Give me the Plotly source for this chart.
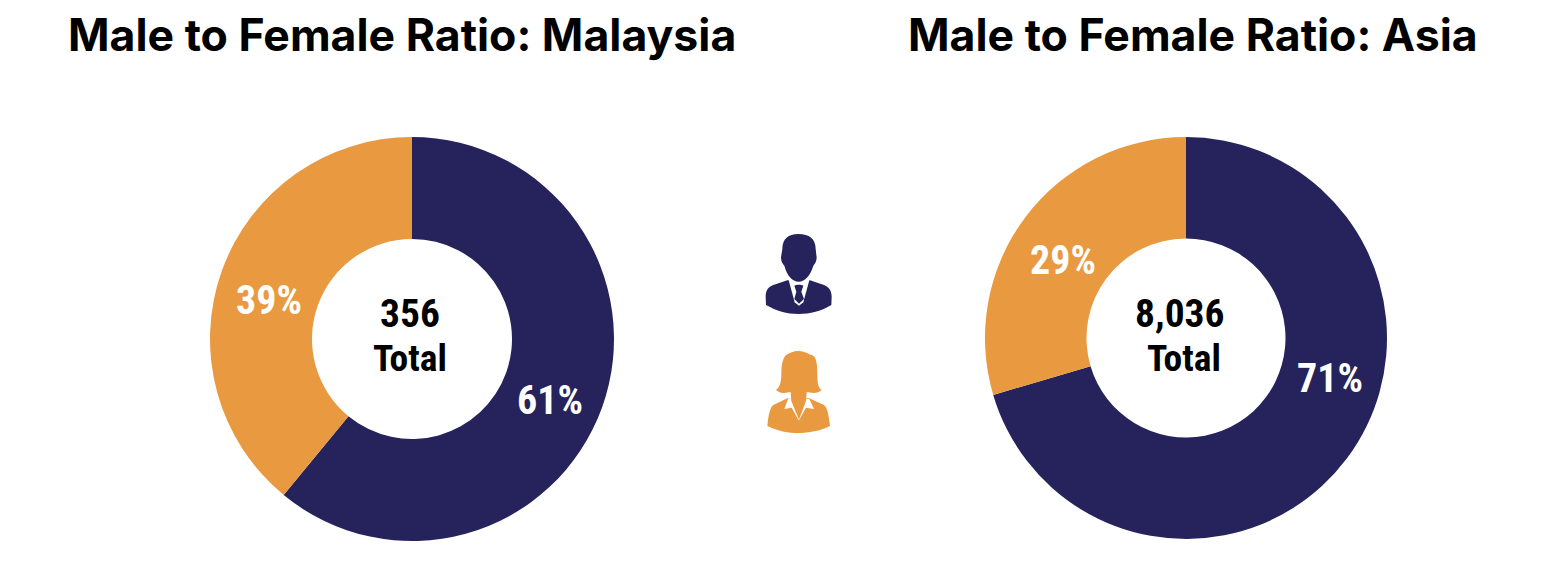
import re
import plotly.graph_objects as go

W, H = 1544, 572
OFF = 8  # the page places the figure 8 px in from the window's corner
NAVY, ORANGE = "#26235c", "#e9993f"

segments = ["Male", "Female"]
malaysia_counts = [217, 139]
asia_counts = [5660, 2376]
malaysia_pct = ["61%", "39%"]
asia_pct = ["71%", "29%"]
titles = ["Male to Female Ratio: Malaysia", "Male to Female Ratio: Asia"]
totals = ["356", "8,036"]


def px(x):
    return (x - OFF) / W


def py(y):
    return 1 - (y - OFF) / H


def make_pie(vals, x0, x1, y0, y1):
    return go.Pie(
        labels=segments, values=vals, hole=0.495, sort=False, direction="clockwise",
        rotation=0, textinfo="none", hoverinfo="label+percent",
        marker=dict(colors=[NAVY, ORANGE], line=dict(width=0)),
        domain=dict(x=[px(x0), px(x1)], y=[py(y1), py(y0)]), showlegend=False,
    )


fig = go.Figure([
    make_pie(malaysia_counts, 210, 614, 137, 541),
    make_pie(asia_counts, 985, 1387, 137, 539),
])


def txt(s, x, y, size, color, family):
    return dict(text=s, x=px(x), y=py(y), xref="paper", yref="paper", showarrow=False,
                xanchor="center", yanchor="middle",
                font=dict(family=family, size=size, color=color, weight=700))


NARROW = "Roboto Condensed, DejaVu Sans Condensed, Roboto"
TITLE = "Inter"
ann = [
    txt(titles[0], 402, 35, 44.6, "#000", TITLE),
    txt(titles[1], 1193, 35, 44.6, "#000", TITLE),
    txt(totals[0], 410, 313, 39.5, "#000", NARROW),
    txt("Total", 410, 358, 37.5, "#000", NARROW),
    txt(totals[1], 1180, 313, 39.5, "#000", NARROW),
    txt("Total", 1184, 358, 37.5, "#000", NARROW),
    txt(malaysia_pct[0], 550, 400, 40, "#fff", NARROW),
    txt(malaysia_pct[1], 269, 300, 40, "#fff", NARROW),
    txt(asia_pct[0], 1330, 378, 40, "#fff", NARROW),
    txt(asia_pct[1], 1063, 260, 40, "#fff", NARROW),
]


def icon(path, color):
    """Icon outlines are traced in a 3x crop whose origin is at (750,225) px."""
    nums = iter(re.findall(r"-?\d+\.?\d*|[A-Za-z]", path))
    out, isx = [], True
    for t in nums:
        if t.isalpha():
            out.append(t)
            isx = True
        else:
            v = float(t)
            if isx:
                out.append(f"{px(750 + v / 3):.5f},")
            else:
                out.append(f"{py(225 + v / 3):.5f}")
            isx = not isx
    return dict(type="path", xref="paper", yref="paper", path=" ".join(out).replace(", ", ","),
                fillcolor=color, line=dict(width=0), layer="above")


shapes = [
    # man
    icon("M112 166 L70 180 C55 186 47 195 47 215 L48 240 C80 258 110 267 145 267 C180 267 215 258 244 240 "
         "L245 215 C244 195 236 186 222 180 L180 166 Z", NAVY),
    icon("M114 158 L180 158 L160 232 L147 242 L134 232 Z", "#ffffff"),
    icon("M133 182 C140 178 153 178 160 182 L154 200 L162 222 L147 236 L133 222 L139 200 Z", NAVY),
    icon("M145 27 C178 27 197 42 197 72 L200 98 C199 112 193 118 190 122 C182 150 165 170 146 170 "
         "C127 170 110 150 103 122 C98 118 93 110 93 97 L97 72 C97 42 115 27 145 27 Z", NAVY),
    # woman
    icon("M112 520 L70 540 C60 548 55 570 52 603 C90 620 115 624 145 624 C175 624 210 618 240 603 "
         "C236 570 232 548 222 540 L178 520 Z", ORANGE),
    icon("M115 520 L103 552 L125 548 L146 586 L147 586 L168 548 L192 552 L178 522 Z", "#ffffff"),
    icon("M122 500 L170 500 L168 528 L147 584 L124 528 Z", ORANGE),
    icon("M145 378 C165 378 175 388 190 392 C200 400 202 420 202 450 C202 475 205 490 215 495 "
         "C205 505 190 505 176 502 L115 502 C100 505 88 505 78 494 C90 488 93 470 94 450 "
         "C94 420 98 400 108 390 C120 384 130 378 145 378 Z", ORANGE),
]

fig.update_layout(
    width=W, height=H, autosize=False, margin=dict(l=0, r=0, t=0, b=0),
    paper_bgcolor="#fff", plot_bgcolor="#fff", annotations=ann, shapes=shapes,
)
fig.write_html("out.html", config=dict(displayModeBar=False))
